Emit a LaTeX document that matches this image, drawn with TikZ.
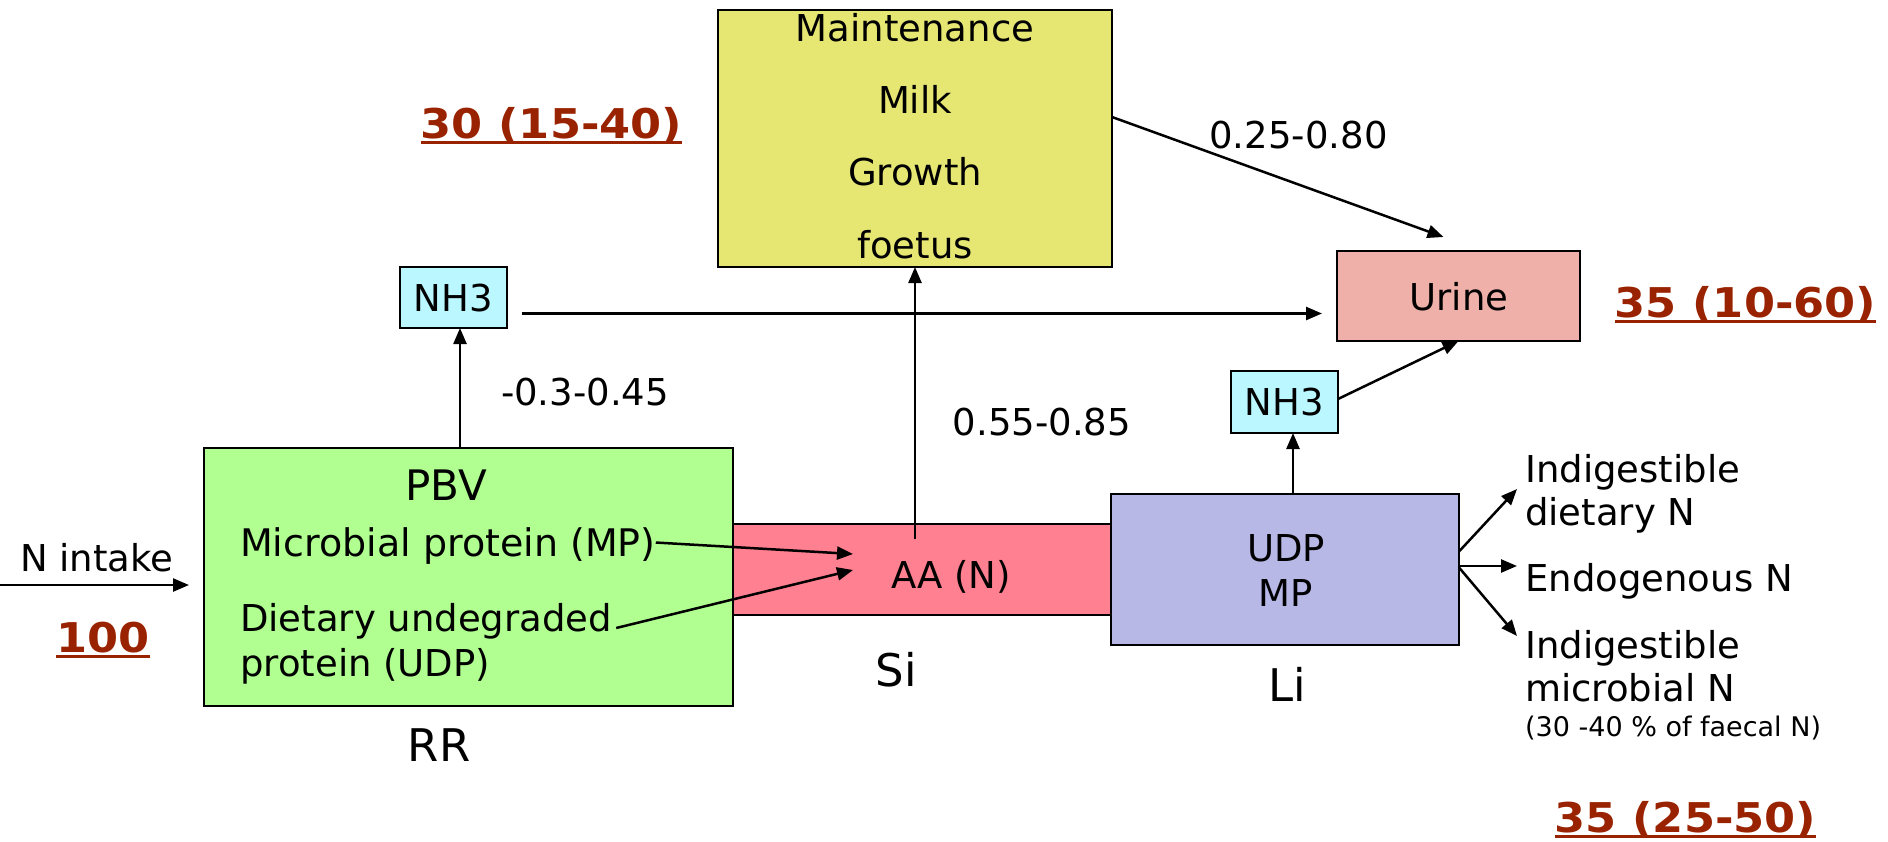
\documentclass[tikz,border=0pt]{standalone}
\usepackage{fontspec}
\setmainfont{DejaVu Sans}
\usetikzlibrary{arrows.meta,calc}
\definecolor{cgreen}{RGB}{176,255,144}
\definecolor{cyellow}{RGB}{230,230,115}
\definecolor{cred}{RGB}{255,128,144}
\definecolor{cpurple}{RGB}{184,184,230}
\definecolor{curine}{RGB}{238,176,168}
\definecolor{ccyan}{RGB}{187,247,255}
\definecolor{cnum}{RGB}{153,34,0}
\begin{document}
\begin{tikzpicture}[x=1pt,y=-1pt,
  box/.style={draw=black, line width=2pt, inner sep=0pt, outer sep=0pt},
  txt/.style={inner sep=0pt, anchor=base, font=\fontsize{37}{44}\selectfont},
  txtl/.style={txt, anchor=base west},
  big/.style={inner sep=0pt, anchor=base, font=\fontsize{45}{54}\selectfont},
  small/.style={inner sep=0pt, anchor=base west, font=\fontsize{27}{32}\selectfont},
  num/.style={inner sep=0pt, anchor=base, text=cnum, font=\fontsize{41}{48}\selectfont\bfseries\addfontfeature{FakeStretch=1.09}},
  uline/.style={draw=cnum, line width=3pt},
  arr/.style={draw=black, line width=2.5pt, -{Triangle[length=16pt,width=13pt]}},
  ln/.style={draw=black, line width=2.5pt}]
\useasboundingbox (0,0) rectangle (1888,841);

% boxes
\node[box, fill=cred, minimum width=378pt, minimum height=91pt] (band) at (922,569.5) {};
\node[box, fill=cgreen, minimum width=529pt, minimum height=258pt] (green) at (468.5,577) {};
\node[box, fill=cpurple, minimum width=348pt, minimum height=151pt] (purple) at (1285,569.5) {};
\node[box, fill=cyellow, minimum width=394pt, minimum height=257pt] (yellow) at (915,138.5) {};
\node[box, fill=curine, minimum width=243pt, minimum height=90pt] (urine) at (1458.5,296) {};
\node[box, fill=ccyan, minimum width=107pt, minimum height=61pt] (nh3a) at (453.5,297.5) {};
\node[box, fill=ccyan, minimum width=107pt, minimum height=62pt] (nh3b) at (1284.5,402) {};

% texts in boxes
\node[txt] (tmaint) at (915,41) {Maintenance};
\node[txt] (tmilk) at (915,113) {Milk};
\node[txt] (tgrowth) at (915,185) {Growth};
\node[txt] (tfoetus) at (915,258) {foetus};
\node[txt] (turine) at (1459,310) {Urine};
\node[txt] (tnha) at (453.5,311) {NH3};
\node[txt] (tnhb) at (1284.5,415) {NH3};
\node[inner sep=0pt, anchor=base, font=\fontsize{42}{50}\selectfont] (tpbv) at (446,500) {PBV};
\node[txtl, font=\fontsize{38}{44}\selectfont] (tmp) at (240,556) {Microbial protein (MP)};
\node[txtl] (tdud) at (240,631) {Dietary undegraded};
\node[txtl] (tpudp) at (240,676) {protein (UDP)};
\node[txt] (taa) at (951,588) {AA (N)};
\node[txt] (tudp) at (1286,561) {UDP};
\node[txt] (tmpb) at (1286,606) {MP};

% labels
\node[txtl] (tnin) at (20,571) {N intake};
\node[big] (trr) at (439,761) {RR};
\node[big] (tsi) at (896,686) {Si};
\node[big] (tli) at (1287,701) {Li};
\node[txt] (l1) at (585,405) {-0.3-0.45};
\node[txt] (l2) at (1042,435) {0.55-0.85};
\node[txt] (l3) at (1298.5,148) {0.25-0.80};
\node[txtl] (r1) at (1525,482) {Indigestible};
\node[txtl] (r2) at (1525,525) {dietary N};
\node[txtl] (r3) at (1525,591) {Endogenous N};
\node[txtl] (r4) at (1525,658) {Indigestible};
\node[txtl] (r5) at (1525,701) {microbial N};
\node[small] (r6) at (1525,736) {(30 -40 \% of faecal N)};

% red numbers
\node[num] (n30) at (551.5,138) {30 (15-40)};
\node[num] (n35a) at (1745.5,317) {35 (10-60)};
\node[num] (n35b) at (1685.5,832) {35 (25-50)};
\node[num] (n100) at (103,652) {100};
\foreach \n in {n30,n35a,n35b,n100}
  \draw[uline] ([yshift=-4pt]\n.base west) -- ([yshift=-4pt]\n.base east);

% coordinates
\coordinate (ninstart) at (0,585);
\coordinate (ninend) at (189,585);
\coordinate (pbvtop) at (460,448);
\coordinate (aatop) at (915,539);
\coordinate (udptop) at (1293,494);
\coordinate (t1) at (853,554);
\coordinate (t2) at (853,570);
\coordinate (e1) at (1517,489);
\coordinate (e2) at (1517,566);
\coordinate (e3) at (1517,636);

% connectors
\draw[arr] (ninstart) -- (ninend);
\draw[arr] (pbvtop) -- (pbvtop |- nh3a.south);
\draw[arr] ($(nh3a.east)+(15,16)$) -- ($(nh3a.east -| urine.west)+(-15,16)$);
\draw[arr] (aatop) -- (aatop |- yellow.south);
\draw[arr] ($(yellow.north east)+(0,107)$) -- ($(urine.north)+(-15,-14)$);
\draw[arr] (udptop) -- (udptop |- nh3b.south);
\draw[arr] ($(nh3b.east)+(0,-3)$) -- (urine.south);
\draw[arr] ($(tmp.east)+(0,-3)$) -- (t1);
\draw[arr] ($(tdud.base east)+(4,-3)$) -- (t2);
\draw[arr] ($(purple.east)+(0,-18)$) -- (e1);
\draw[arr] (purple.east |- e2) -- (e2);
\draw[arr] ($(purple.east)+(0,-2)$) -- (e3);
\end{tikzpicture}
\end{document}
